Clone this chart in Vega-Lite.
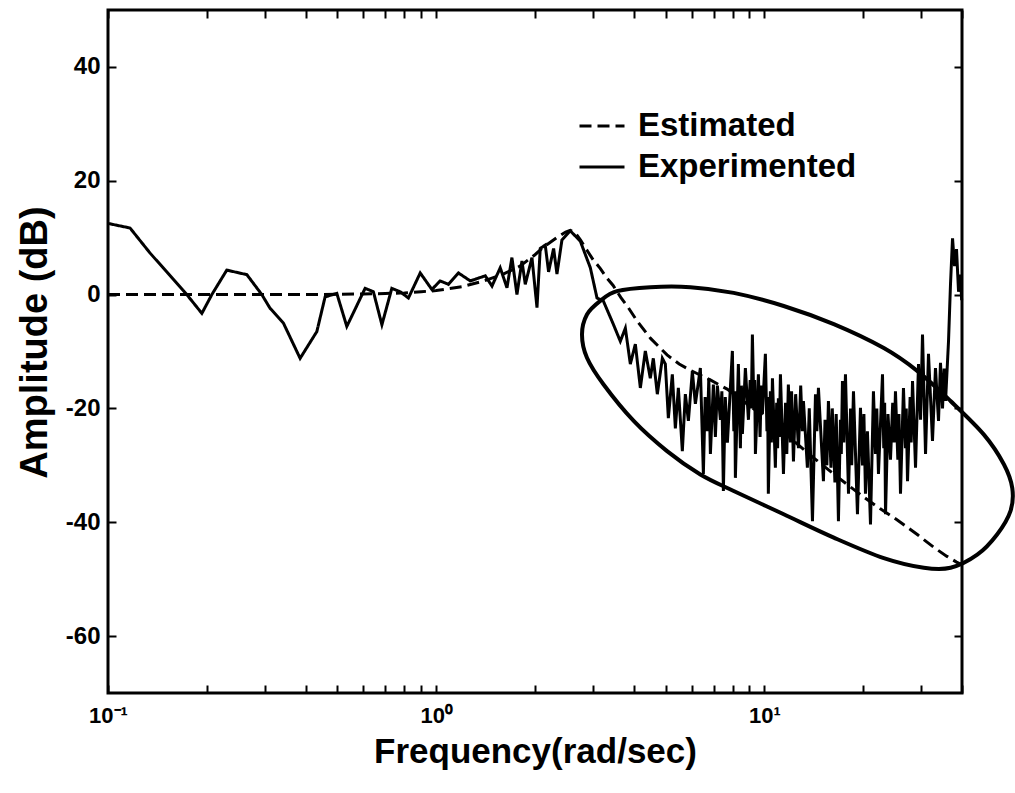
{
  "$schema": "https://vega.github.io/schema/vega-lite/v6.json",
  "width": 854,
  "height": 683,
  "autosize": {"type": "none"},
  "padding": {"left": 108, "top": 10, "right": 53, "bottom": 100},
  "background": "white",
  "config": {
    "view": {"stroke": "black", "strokeWidth": 3},
    "font": "Liberation Sans",
    "axis": {"grid": false, "domain": false, "tickColor": "black", "labelColor": "black", "titleColor": "black", "tickWidth": 2}
  },
  "datasets": {
    "curves": [
      {"series": "Estimated", "freq": 0.1, "amp": 0},
      {"series": "Estimated", "freq": 0.2, "amp": 0},
      {"series": "Estimated", "freq": 0.3, "amp": 0},
      {"series": "Estimated", "freq": 0.4, "amp": 0},
      {"series": "Estimated", "freq": 0.5, "amp": 0.05},
      {"series": "Estimated", "freq": 0.6, "amp": 0.1},
      {"series": "Estimated", "freq": 0.7, "amp": 0.2},
      {"series": "Estimated", "freq": 0.8, "amp": 0.3},
      {"series": "Estimated", "freq": 0.9, "amp": 0.5},
      {"series": "Estimated", "freq": 1.0, "amp": 0.7},
      {"series": "Estimated", "freq": 1.2, "amp": 1.4},
      {"series": "Estimated", "freq": 1.4, "amp": 2.4},
      {"series": "Estimated", "freq": 1.6, "amp": 3.6},
      {"series": "Estimated", "freq": 1.8, "amp": 5.0},
      {"series": "Estimated", "freq": 2.0, "amp": 7.0},
      {"series": "Estimated", "freq": 2.12, "amp": 8.3},
      {"series": "Estimated", "freq": 2.33, "amp": 10.0},
      {"series": "Estimated", "freq": 2.48, "amp": 11.0},
      {"series": "Estimated", "freq": 2.56, "amp": 11.3},
      {"series": "Estimated", "freq": 2.65, "amp": 10.9},
      {"series": "Estimated", "freq": 2.75, "amp": 9.6},
      {"series": "Estimated", "freq": 2.88, "amp": 7.8},
      {"series": "Estimated", "freq": 3.0, "amp": 6.2},
      {"series": "Estimated", "freq": 3.16, "amp": 4.6},
      {"series": "Estimated", "freq": 3.3, "amp": 3.0},
      {"series": "Estimated", "freq": 3.46, "amp": 1.6},
      {"series": "Estimated", "freq": 3.65, "amp": -0.5},
      {"series": "Estimated", "freq": 3.85, "amp": -2.3},
      {"series": "Estimated", "freq": 4.1, "amp": -4.7},
      {"series": "Estimated", "freq": 4.5, "amp": -7.7},
      {"series": "Estimated", "freq": 5.05, "amp": -10.6},
      {"series": "Estimated", "freq": 5.5, "amp": -12.2},
      {"series": "Estimated", "freq": 5.95, "amp": -13.3},
      {"series": "Estimated", "freq": 6.84, "amp": -15.0},
      {"series": "Estimated", "freq": 7.7, "amp": -16.6},
      {"series": "Estimated", "freq": 9.0, "amp": -19.5},
      {"series": "Estimated", "freq": 10.0, "amp": -21.5},
      {"series": "Estimated", "freq": 12.0, "amp": -25.2},
      {"series": "Estimated", "freq": 14.0, "amp": -28.5},
      {"series": "Estimated", "freq": 16.0, "amp": -31.2},
      {"series": "Estimated", "freq": 18.0, "amp": -33.5},
      {"series": "Estimated", "freq": 20.0, "amp": -35.5},
      {"series": "Estimated", "freq": 22.5, "amp": -37.6},
      {"series": "Estimated", "freq": 25.4, "amp": -39.6},
      {"series": "Estimated", "freq": 29.3, "amp": -42.2},
      {"series": "Estimated", "freq": 32.8, "amp": -44.4},
      {"series": "Estimated", "freq": 36.0, "amp": -46.0},
      {"series": "Estimated", "freq": 38.5, "amp": -47.0},
      {"series": "Estimated", "freq": 40.0, "amp": -47.5},
      {"series": "Experimented", "freq": 0.1, "amp": 12.5},
      {"series": "Experimented", "freq": 0.1167, "amp": 11.7},
      {"series": "Experimented", "freq": 0.1343, "amp": 7.3},
      {"series": "Experimented", "freq": 0.1738, "amp": 0},
      {"series": "Experimented", "freq": 0.1932, "amp": -3.3},
      {"series": "Experimented", "freq": 0.2072, "amp": 0},
      {"series": "Experimented", "freq": 0.2301, "amp": 4.3},
      {"series": "Experimented", "freq": 0.2649, "amp": 3.5},
      {"series": "Experimented", "freq": 0.2942, "amp": 0},
      {"series": "Experimented", "freq": 0.3117, "amp": -2.4},
      {"series": "Experimented", "freq": 0.3423, "amp": -5.0},
      {"series": "Experimented", "freq": 0.3849, "amp": -11.2},
      {"series": "Experimented", "freq": 0.4328, "amp": -6.5},
      {"series": "Experimented", "freq": 0.4587, "amp": -0.4},
      {"series": "Experimented", "freq": 0.498, "amp": 0.2},
      {"series": "Experimented", "freq": 0.5341, "amp": -5.6},
      {"series": "Experimented", "freq": 0.6073, "amp": 1.1},
      {"series": "Experimented", "freq": 0.6436, "amp": 0.5},
      {"series": "Experimented", "freq": 0.6832, "amp": -5.3},
      {"series": "Experimented", "freq": 0.7325, "amp": 1.1},
      {"series": "Experimented", "freq": 0.7767, "amp": 0.5},
      {"series": "Experimented", "freq": 0.823, "amp": -0.6},
      {"series": "Experimented", "freq": 0.894, "amp": 3.8},
      {"series": "Experimented", "freq": 0.97, "amp": 0.9},
      {"series": "Experimented", "freq": 1.028, "amp": 2.4},
      {"series": "Experimented", "freq": 1.09, "amp": 1.8},
      {"series": "Experimented", "freq": 1.169, "amp": 3.8},
      {"series": "Experimented", "freq": 1.27, "amp": 2.4},
      {"series": "Experimented", "freq": 1.411, "amp": 3.3},
      {"series": "Experimented", "freq": 1.479, "amp": 1.5},
      {"series": "Experimented", "freq": 1.567, "amp": 4.7},
      {"series": "Experimented", "freq": 1.643, "amp": 1.2},
      {"series": "Experimented", "freq": 1.701, "amp": 6.5},
      {"series": "Experimented", "freq": 1.762, "amp": 0},
      {"series": "Experimented", "freq": 1.825, "amp": 5.9},
      {"series": "Experimented", "freq": 1.868, "amp": 1.8},
      {"series": "Experimented", "freq": 1.958, "amp": 6.5},
      {"series": "Experimented", "freq": 2.028, "amp": -2.3},
      {"series": "Experimented", "freq": 2.075, "amp": 8.1},
      {"series": "Experimented", "freq": 2.149, "amp": 8.7},
      {"series": "Experimented", "freq": 2.2, "amp": 4.0},
      {"series": "Experimented", "freq": 2.279, "amp": 8.1},
      {"series": "Experimented", "freq": 2.333, "amp": 3.6},
      {"series": "Experimented", "freq": 2.416, "amp": 9.6},
      {"series": "Experimented", "freq": 2.562, "amp": 11.2},
      {"series": "Experimented", "freq": 2.748, "amp": 9.4},
      {"series": "Experimented", "freq": 2.949, "amp": 4.7},
      {"series": "Experimented", "freq": 3.09, "amp": -0.6},
      {"series": "Experimented", "freq": 3.229, "amp": -1.1},
      {"series": "Experimented", "freq": 3.464, "amp": -5.2},
      {"series": "Experimented", "freq": 3.639, "amp": -8.2},
      {"series": "Experimented", "freq": 3.77, "amp": -5.9},
      {"series": "Experimented", "freq": 3.904, "amp": -12.2},
      {"series": "Experimented", "freq": 4.044, "amp": -8.7},
      {"series": "Experimented", "freq": 4.188, "amp": -16.4},
      {"series": "Experimented", "freq": 4.337, "amp": -9.9},
      {"series": "Experimented", "freq": 4.491, "amp": -14.7},
      {"series": "Experimented", "freq": 4.587, "amp": -11.2},
      {"series": "Experimented", "freq": 4.718, "amp": -17.5},
      {"series": "Experimented", "freq": 4.887, "amp": -11.2},
      {"series": "Experimented", "freq": 4.991, "amp": -12.2},
      {"series": "Experimented", "freq": 5.097, "amp": -21.7},
      {"series": "Experimented", "freq": 5.242, "amp": -14.0},
      {"series": "Experimented", "freq": 5.354, "amp": -23.5},
      {"series": "Experimented", "freq": 5.468, "amp": -16.4},
      {"series": "Experimented", "freq": 5.623, "amp": -27.5},
      {"series": "Experimented", "freq": 5.743, "amp": -17.5},
      {"series": "Experimented", "freq": 5.866, "amp": -22.2},
      {"series": "Experimented", "freq": 6.032, "amp": -13.5},
      {"series": "Experimented", "freq": 6.161, "amp": -19.2},
      {"series": "Experimented", "freq": 6.381, "amp": -12.9},
      {"series": "Experimented", "freq": 6.517, "amp": -31.5},
      {"series": "Experimented", "freq": 6.6, "amp": -18.0},
      {"series": "Experimented", "freq": 6.703, "amp": -24.0},
      {"series": "Experimented", "freq": 6.77, "amp": -14.7},
      {"series": "Experimented", "freq": 6.846, "amp": -28.0},
      {"series": "Experimented", "freq": 6.991, "amp": -15.8},
      {"series": "Experimented", "freq": 7.09, "amp": -25.0},
      {"series": "Experimented", "freq": 7.19, "amp": -16.0},
      {"series": "Experimented", "freq": 7.344, "amp": -22.0},
      {"series": "Experimented", "freq": 7.42, "amp": -17.0},
      {"series": "Experimented", "freq": 7.499, "amp": -34.5},
      {"series": "Experimented", "freq": 7.6, "amp": -18.0},
      {"series": "Experimented", "freq": 7.713, "amp": -26.0},
      {"series": "Experimented", "freq": 7.988, "amp": -9.9},
      {"series": "Experimented", "freq": 8.07, "amp": -24.0},
      {"series": "Experimented", "freq": 8.12, "amp": -17.0},
      {"series": "Experimented", "freq": 8.158, "amp": -32.2},
      {"series": "Experimented", "freq": 8.331, "amp": -12.2},
      {"series": "Experimented", "freq": 8.45, "amp": -27.0},
      {"series": "Experimented", "freq": 8.51, "amp": -16.0},
      {"series": "Experimented", "freq": 8.568, "amp": -24.5},
      {"series": "Experimented", "freq": 8.751, "amp": -12.9},
      {"series": "Experimented", "freq": 8.939, "amp": -22.0},
      {"series": "Experimented", "freq": 9.05, "amp": -15.0},
      {"series": "Experimented", "freq": 9.12, "amp": -20.0},
      {"series": "Experimented", "freq": 9.192, "amp": -7.0},
      {"series": "Experimented", "freq": 9.29, "amp": -20.0},
      {"series": "Experimented", "freq": 9.34, "amp": -15.0},
      {"series": "Experimented", "freq": 9.389, "amp": -28.0},
      {"series": "Experimented", "freq": 9.588, "amp": -14.0},
      {"series": "Experimented", "freq": 9.7, "amp": -25.0},
      {"series": "Experimented", "freq": 9.78, "amp": -16.0},
      {"series": "Experimented", "freq": 9.86, "amp": -21.0},
      {"series": "Experimented", "freq": 10.07, "amp": -10.4},
      {"series": "Experimented", "freq": 10.18, "amp": -24.0},
      {"series": "Experimented", "freq": 10.23, "amp": -18.0},
      {"series": "Experimented", "freq": 10.28, "amp": -35.0},
      {"series": "Experimented", "freq": 10.43, "amp": -17.0},
      {"series": "Experimented", "freq": 10.5, "amp": -26.0},
      {"series": "Experimented", "freq": 10.58, "amp": -14.7},
      {"series": "Experimented", "freq": 10.8, "amp": -30.4},
      {"series": "Experimented", "freq": 10.9, "amp": -19.0},
      {"series": "Experimented", "freq": 10.97, "amp": -27.0},
      {"series": "Experimented", "freq": 11.03, "amp": -18.2},
      {"series": "Experimented", "freq": 11.1, "amp": -25.0},
      {"series": "Experimented", "freq": 11.19, "amp": -14.0},
      {"series": "Experimented", "freq": 11.43, "amp": -31.5},
      {"series": "Experimented", "freq": 11.6, "amp": -19.0},
      {"series": "Experimented", "freq": 11.7, "amp": -28.0},
      {"series": "Experimented", "freq": 11.83, "amp": -15.8},
      {"series": "Experimented", "freq": 12.0, "amp": -26.0},
      {"series": "Experimented", "freq": 12.1, "amp": -17.0},
      {"series": "Experimented", "freq": 12.26, "amp": -29.3},
      {"series": "Experimented", "freq": 12.45, "amp": -17.5},
      {"series": "Experimented", "freq": 12.7, "amp": -27.0},
      {"series": "Experimented", "freq": 12.9, "amp": -16.0},
      {"series": "Experimented", "freq": 13.05, "amp": -24.0},
      {"series": "Experimented", "freq": 13.15, "amp": -18.7},
      {"series": "Experimented", "freq": 13.52, "amp": -30.4},
      {"series": "Experimented", "freq": 13.7, "amp": -20.0},
      {"series": "Experimented", "freq": 14.01, "amp": -39.8},
      {"series": "Experimented", "freq": 14.31, "amp": -17.5},
      {"series": "Experimented", "freq": 14.45, "amp": -24.0},
      {"series": "Experimented", "freq": 14.61, "amp": -16.4},
      {"series": "Experimented", "freq": 15.13, "amp": -32.8},
      {"series": "Experimented", "freq": 15.3, "amp": -22.0},
      {"series": "Experimented", "freq": 15.5, "amp": -30.0},
      {"series": "Experimented", "freq": 15.67, "amp": -18.7},
      {"series": "Experimented", "freq": 15.95, "amp": -30.4},
      {"series": "Experimented", "freq": 16.1, "amp": -20.0},
      {"series": "Experimented", "freq": 16.4, "amp": -33.0},
      {"series": "Experimented", "freq": 16.55, "amp": -21.0},
      {"series": "Experimented", "freq": 16.81, "amp": -39.8},
      {"series": "Experimented", "freq": 17.05, "amp": -22.0},
      {"series": "Experimented", "freq": 17.15, "amp": -28.0},
      {"series": "Experimented", "freq": 17.29, "amp": -15.2},
      {"series": "Experimented", "freq": 17.45, "amp": -26.0},
      {"series": "Experimented", "freq": 17.66, "amp": -14.0},
      {"series": "Experimented", "freq": 18.04, "amp": -35.0},
      {"series": "Experimented", "freq": 18.3, "amp": -20.0},
      {"series": "Experimented", "freq": 18.45, "amp": -30.0},
      {"series": "Experimented", "freq": 18.68, "amp": -17.0},
      {"series": "Experimented", "freq": 19.21, "amp": -38.6},
      {"series": "Experimented", "freq": 19.62, "amp": -19.9},
      {"series": "Experimented", "freq": 19.9, "amp": -30.0},
      {"series": "Experimented", "freq": 20.1, "amp": -21.0},
      {"series": "Experimented", "freq": 20.32, "amp": -35.0},
      {"series": "Experimented", "freq": 20.6, "amp": -24.0},
      {"series": "Experimented", "freq": 21.05, "amp": -40.4},
      {"series": "Experimented", "freq": 21.49, "amp": -17.0},
      {"series": "Experimented", "freq": 21.8, "amp": -28.0},
      {"series": "Experimented", "freq": 22.0, "amp": -20.0},
      {"series": "Experimented", "freq": 22.26, "amp": -31.5},
      {"series": "Experimented", "freq": 22.9, "amp": -14.0},
      {"series": "Experimented", "freq": 23.1, "amp": -27.0},
      {"series": "Experimented", "freq": 23.25, "amp": -19.0},
      {"series": "Experimented", "freq": 23.39, "amp": -38.6},
      {"series": "Experimented", "freq": 23.8, "amp": -21.0},
      {"series": "Experimented", "freq": 24.22, "amp": -29.0},
      {"series": "Experimented", "freq": 24.6, "amp": -19.0},
      {"series": "Experimented", "freq": 24.85, "amp": -26.0},
      {"series": "Experimented", "freq": 25.08, "amp": -17.0},
      {"series": "Experimented", "freq": 25.5, "amp": -29.0},
      {"series": "Experimented", "freq": 25.7, "amp": -21.0},
      {"series": "Experimented", "freq": 25.98, "amp": -35.0},
      {"series": "Experimented", "freq": 26.53, "amp": -16.4},
      {"series": "Experimented", "freq": 26.9, "amp": -27.0},
      {"series": "Experimented", "freq": 27.05, "amp": -20.0},
      {"series": "Experimented", "freq": 27.29, "amp": -32.8},
      {"series": "Experimented", "freq": 27.8, "amp": -18.0},
      {"series": "Experimented", "freq": 28.0, "amp": -26.0},
      {"series": "Experimented", "freq": 28.27, "amp": -15.2},
      {"series": "Experimented", "freq": 28.87, "amp": -30.4},
      {"series": "Experimented", "freq": 29.48, "amp": -12.2},
      {"series": "Experimented", "freq": 29.9, "amp": -22.0},
      {"series": "Experimented", "freq": 30.32, "amp": -7.0},
      {"series": "Experimented", "freq": 30.97, "amp": -28.0},
      {"series": "Experimented", "freq": 31.62, "amp": -10.4},
      {"series": "Experimented", "freq": 32.52, "amp": -25.7},
      {"series": "Experimented", "freq": 33.21, "amp": -12.9},
      {"series": "Experimented", "freq": 33.92, "amp": -22.2},
      {"series": "Experimented", "freq": 34.4, "amp": -12.0},
      {"series": "Experimented", "freq": 34.89, "amp": -20.0},
      {"series": "Experimented", "freq": 35.3, "amp": -13.0},
      {"series": "Experimented", "freq": 35.64, "amp": -18.7},
      {"series": "Experimented", "freq": 36.39, "amp": -8.2},
      {"series": "Experimented", "freq": 36.91, "amp": 2.0},
      {"series": "Experimented", "freq": 37.43, "amp": 9.9},
      {"series": "Experimented", "freq": 37.96, "amp": 5.0},
      {"series": "Experimented", "freq": 38.49, "amp": 8.0},
      {"series": "Experimented", "freq": 39.04, "amp": 0.5},
      {"series": "Experimented", "freq": 39.59, "amp": 3.5},
      {"series": "Experimented", "freq": 39.9, "amp": -1.0}
    ],
    "ellipse": [
      {"i": 1, "freq": 2.781, "amp": -7.0},
      {"i": 2, "freq": 2.88, "amp": -3.5},
      {"i": 3, "freq": 3.162, "amp": -1.1},
      {"i": 4, "freq": 3.555, "amp": 0.6},
      {"i": 5, "freq": 4.491, "amp": 1.3},
      {"i": 6, "freq": 5.95, "amp": 1.3},
      {"i": 7, "freq": 8.061, "amp": 0.3},
      {"i": 8, "freq": 11.45, "amp": -2.0},
      {"i": 9, "freq": 16.27, "amp": -5.2},
      {"i": 10, "freq": 23.11, "amp": -9.4},
      {"i": 11, "freq": 29.21, "amp": -13.4},
      {"i": 12, "freq": 36.91, "amp": -18.7},
      {"i": 13, "freq": 46.64, "amp": -24.6},
      {"i": 14, "freq": 53.65, "amp": -29.8},
      {"i": 15, "freq": 56.92, "amp": -34.0},
      {"i": 16, "freq": 56.23, "amp": -38.0},
      {"i": 17, "freq": 51.23, "amp": -42.1},
      {"i": 18, "freq": 44.52, "amp": -45.7},
      {"i": 19, "freq": 36.91, "amp": -48.0},
      {"i": 20, "freq": 30.6, "amp": -48.0},
      {"i": 21, "freq": 23.11, "amp": -46.3},
      {"i": 22, "freq": 16.27, "amp": -42.7},
      {"i": 23, "freq": 11.45, "amp": -38.6},
      {"i": 24, "freq": 8.061, "amp": -34.5},
      {"i": 25, "freq": 6.381, "amp": -31.6},
      {"i": 26, "freq": 5.051, "amp": -27.5},
      {"i": 27, "freq": 3.997, "amp": -22.2},
      {"i": 28, "freq": 3.236, "amp": -15.8},
      {"i": 29, "freq": 2.88, "amp": -11.1}
    ]
  },
  "layer": [
    {
      "data": {"name": "curves"},
      "mark": {"type": "line", "color": "black", "strokeWidth": 3},
      "encoding": {
        "x": {
          "field": "freq", "type": "quantitative",
          "scale": {"type": "log", "domain": [0.1, 40], "nice": false},
          "axis": {
            "orient": "bottom",
            "offset": -8,
            "values": [0.1, 0.2, 0.3, 0.4, 0.5, 0.6, 0.7, 0.8, 0.9, 1, 2, 3, 4, 5, 6, 7, 8, 9, 10, 20, 30, 40],
            "labelExpr": "datum.value == 0.1 ? '10⁻¹' : (datum.value == 1 ? '10⁰' : (datum.value == 10 ? '10¹' : ''))",
            "tickSize": 8,
            "labelFlush": false,
            "labelOverlap": false,
            "labelFontSize": 22,
            "labelFontWeight": "bold",
            "labelPadding": 12,
            "title": "Frequency(rad/sec)",
            "titleFontSize": 35,
            "titleFontWeight": "bold",
            "titleBaseline": "alphabetic",
            "titleY": 77
          }
        },
        "y": {
          "field": "amp", "type": "quantitative",
          "scale": {"domain": [-70, 50], "nice": false},
          "axis": {
            "orient": "left",
            "offset": -8,
            "values": [-60, -40, -20, 0, 20, 40],
            "labelExpr": "toString(datum.value)",
            "tickSize": 8,
            "labelFontSize": 24,
            "labelFontWeight": "bold",
            "labelPadding": 8,
            "title": "Amplitude (dB)",
            "titleFontSize": 38,
            "titleFontWeight": "bold",
            "titleBaseline": "alphabetic",
            "titleX": -70,
            "titleY": 332
          }
        },
        "strokeDash": {
          "field": "series", "type": "nominal",
          "scale": {"domain": ["Estimated", "Experimented"], "range": [[12, 6], [1, 0]]},
          "legend": {
            "orient": "none",
            "legendX": 470,
            "legendY": 92,
            "title": null,
            "symbolType": "stroke",
            "symbolSize": 2025,
            "symbolStrokeWidth": 3,
            "symbolStrokeColor": "black",
            "labelFontSize": 33,
            "labelFontWeight": "bold",
            "labelColor": "black",
            "labelLimit": 500,
            "labelOffset": 12,
            "rowPadding": -1
          }
        }
      }
    },
    {
      "data": {"name": "ellipse"},
      "mark": {"type": "line", "color": "black", "strokeWidth": 4, "interpolate": "cardinal-closed", "clip": false},
      "encoding": {
        "x": {
          "field": "freq", "type": "quantitative",
          "scale": {"type": "log", "domain": [0.1, 40], "nice": false},
          "axis": {
            "orient": "top",
            "offset": -8,
            "values": [0.1, 0.2, 0.3, 0.4, 0.5, 0.6, 0.7, 0.8, 0.9, 1, 2, 3, 4, 5, 6, 7, 8, 9, 10, 20, 30, 40],
            "labels": false,
            "tickSize": 8,
            "title": null
          }
        },
        "y": {
          "field": "amp", "type": "quantitative",
          "scale": {"domain": [-70, 50], "nice": false},
          "axis": {
            "orient": "right",
            "offset": -8,
            "values": [-60, -40, -20, 0, 20, 40],
            "labels": false,
            "tickSize": 8,
            "title": null
          }
        },
        "order": {"field": "i", "type": "quantitative"}
      }
    }
  ]
}
